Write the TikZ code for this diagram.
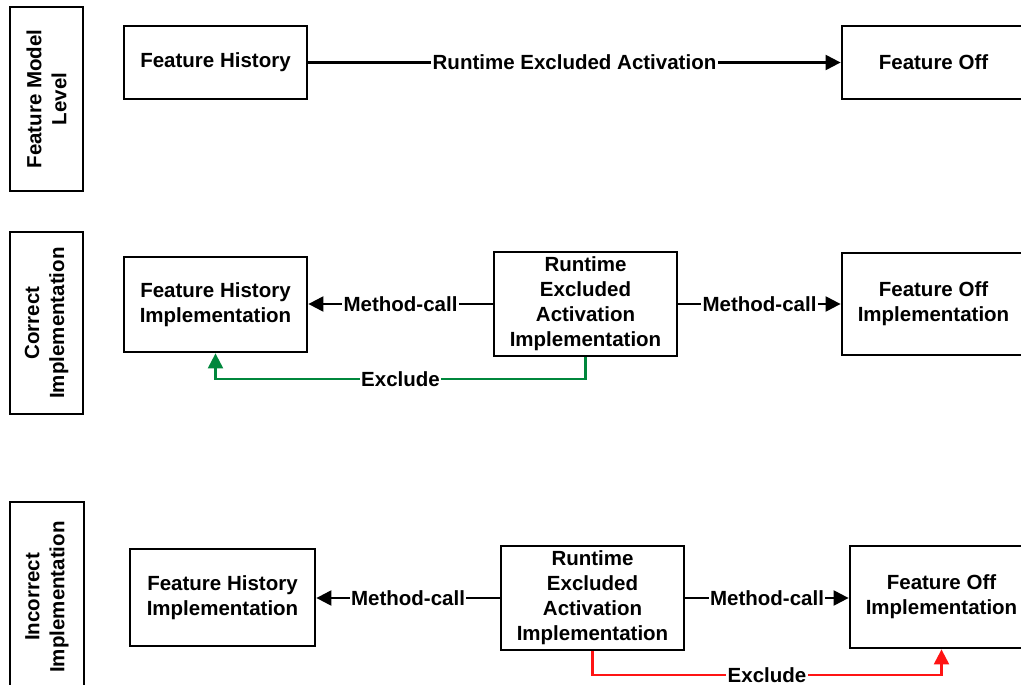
\documentclass[tikz,border=0pt]{standalone}
\usepackage{fontspec}
\setmainfont{Liberation Sans}
\usetikzlibrary{arrows.meta}
\definecolor{exgreen}{RGB}{0,135,60}
\definecolor{exred}{RGB}{255,20,20}
\begin{document}
\begin{tikzpicture}[x=1pt,y=-1pt,
  txt/.style={font=\fontsize{20.5}{25}\selectfont\bfseries, align=center},
  blk/.style={txt, draw, line width=2.8pt, inner sep=0pt, minimum width=183pt},
  lvl/.style={txt, draw, line width=2.8pt, inner sep=0pt, minimum width=184pt, minimum height=73pt, rotate=90},
  conn/.style={line width=2.2pt, -{Triangle[length=15pt,width=15pt]}},
  tag/.style={txt, fill=white, inner sep=1.5pt}
]
\clip (0,0) rectangle (1021,685);
\fill[white] (0,0) rectangle (1021,685);

% level labels on the left
\node[lvl] (lv1) at (46.5,99) {Feature Model\\Level};
\node[lvl, minimum width=182pt] (lv2) at (46.5,323) {Correct\\Implementation};
\node[lvl, minimum width=190pt, minimum height=74pt] (lv3) at (47,597) {Incorrect\\Implementation};

% feature model level
\node[blk, minimum height=73pt] (fh1) at (215.5,62.5) {Feature History};
\node[blk, minimum height=73pt] (fo1) at (933.5,62.5) {Feature Off};
\draw[conn] (fh1.east) -- node[tag] {Runtime Excluded Activation} (fo1.west);

% correct implementation
\node[blk, minimum height=95pt] (fh2) at (215.5,304.5) {Feature History\\Implementation};
\node[blk, minimum height=104pt] (rt2) at (585.5,304) {Runtime\\Excluded\\Activation\\Implementation};
\node[blk, minimum height=102pt] (fo2) at (933.5,304) {Feature Off\\Implementation};
\draw[conn] (rt2.west) -- node[tag] {Method-call} (rt2.west -| fh2.east);
\draw[conn] (rt2.east) -- node[tag] {Method-call} (rt2.east -| fo2.west);
\coordinate (g1) at (585.5,379);
\draw[conn, exgreen] (rt2.south) -- (g1) -| node[tag, pos=0.25, text=black] {Exclude} (fh2.south);

% incorrect implementation
\node[blk, minimum width=185pt, minimum height=97pt] (fh3) at (222.5,597.5) {Feature History\\Implementation};
\node[blk, minimum height=104pt] (rt3) at (592.5,598) {Runtime\\Excluded\\Activation\\Implementation};
\node[blk, minimum height=102pt] (fo3) at (941.5,597) {Feature Off\\Implementation};
\draw[conn] (rt3.west) -- node[tag] {Method-call} (rt3.west -| fh3.east);
\draw[conn] (rt3.east) -- node[tag] {Method-call} (rt3.east -| fo3.west);
\coordinate (r1) at (592.5,675);
\draw[conn, exred] (rt3.south) -- (r1) -| node[tag, pos=0.25, text=black] {Exclude} (fo3.south);
\end{tikzpicture}
\end{document}
